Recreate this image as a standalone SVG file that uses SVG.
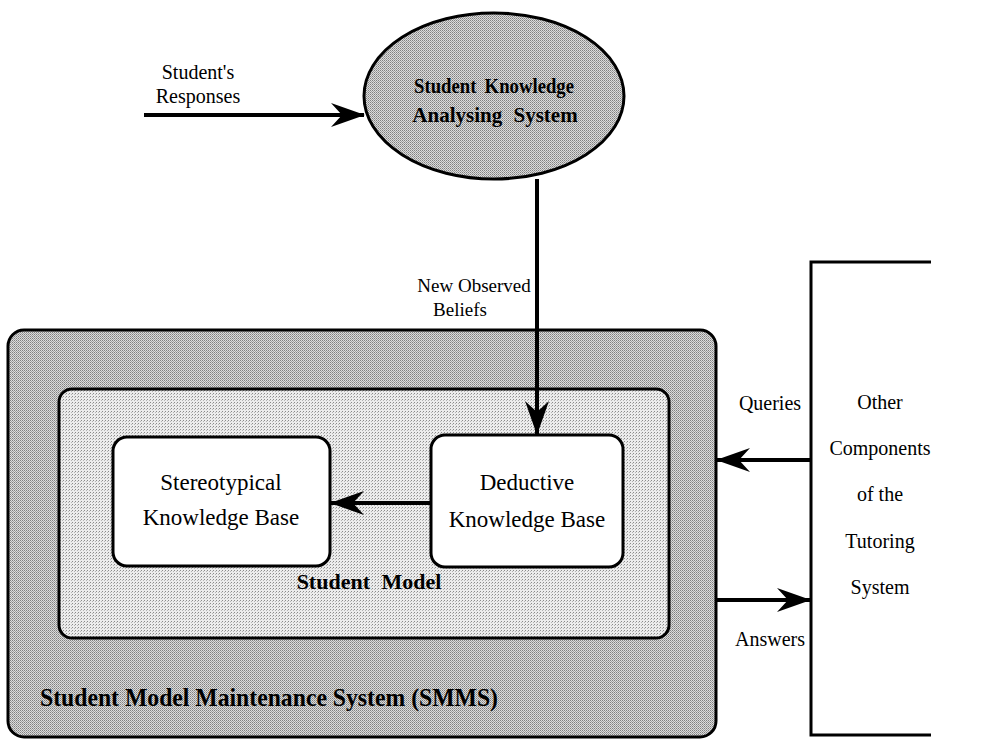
<svg xmlns="http://www.w3.org/2000/svg" width="1002" height="747" viewBox="0 0 1002 747">
<style>
.t{font-family:"Liberation Serif","Times New Roman",serif;font-size:20px;fill:#000;text-anchor:middle}
.b{font-weight:bold}
.k{font-size:23px}
.ln{stroke:#000;stroke-width:4;fill:none}
.box{stroke:#000;stroke-width:3}
</style>
<defs>
<pattern id="dOuter" width="2" height="2" patternUnits="userSpaceOnUse">
<rect width="2" height="2" fill="#dcdcdc"/>
<rect width="1" height="1" fill="#808080"/>
<rect x="1" y="1" width="1" height="1" fill="#a0a0a0"/>
</pattern>
<pattern id="dInner" width="3" height="3" patternUnits="userSpaceOnUse">
<rect width="3" height="3" fill="#ececec"/>
<rect width="1" height="1" fill="#8a8a8a"/>
<rect x="2" y="1" width="1" height="1" fill="#b4b4b4"/>
</pattern>
<marker id="ahL" viewBox="0 0 34 24" refX="33" refY="12" markerWidth="34" markerHeight="24" markerUnits="userSpaceOnUse" orient="auto">
<path d="M0,0 L34,12 L0,24 L11,12 z" fill="#000"/>
</marker>
</defs>
<rect width="1002" height="747" fill="#fff"/>

<g id="smms">
<rect class="box" x="8" y="330" width="708" height="407" rx="16" fill="url(#dOuter)"/>
<text class="t b" x="269" y="706" style="font-size:26px" textLength="458" lengthAdjust="spacingAndGlyphs">Student Model Maintenance System (SMMS)</text>
</g>

<g id="student-model">
<rect class="box" x="59" y="389" width="610" height="249" rx="13" fill="url(#dInner)"/>
<text class="t b" x="369" y="589" style="font-size:22px;word-spacing:6px">Student Model</text>
</g>

<g id="skas">
<ellipse class="box" cx="494" cy="96" rx="130" ry="83" fill="url(#dOuter)"/>
<text class="t b" x="494" y="93" style="font-size:21px;word-spacing:4px" textLength="160" lengthAdjust="spacingAndGlyphs">Student Knowledge</text>
<text class="t b" x="495" y="122" style="font-size:21px;word-spacing:6px">Analysing System</text>
</g>

<g id="stereo">
<rect class="box" x="113" y="437" width="217" height="129" rx="14" fill="#fff"/>
<text class="t k" x="221" y="490">Stereotypical</text>
<text class="t k" x="221" y="525">Knowledge Base</text>
</g>

<g id="deductive">
<rect class="box" x="431" y="435" width="192" height="132" rx="14" fill="#fff"/>
<text class="t k" x="527" y="490">Deductive</text>
<text class="t k" x="527" y="527">Knowledge Base</text>
</g>

<g id="other">
<path d="M931,262 L811,262 L811,735 L931,735" stroke="#000" stroke-width="3" fill="none"/>
<text class="t" x="880" y="409">Other</text>
<text class="t" x="880" y="455">Components</text>
<text class="t" x="880" y="501">of the</text>
<text class="t" x="880" y="548">Tutoring</text>
<text class="t" x="880" y="594">System</text>
</g>

<g id="connectors">
<line class="ln" x1="144" y1="115" x2="364" y2="115" marker-end="url(#ahL)"/>
<line class="ln" x1="537" y1="179" x2="537" y2="434" marker-end="url(#ahL)"/>
<line class="ln" x1="431" y1="503" x2="331" y2="503" marker-end="url(#ahL)"/>
<line class="ln" x1="811" y1="460" x2="717" y2="460" marker-end="url(#ahL)"/>
<line class="ln" x1="717" y1="600" x2="810" y2="600" marker-end="url(#ahL)"/>
</g>

<g id="labels">
<text class="t" x="198" y="79">Student's</text>
<text class="t" x="198" y="103">Responses</text>
<text class="t" x="474" y="292" style="font-size:19px">New Observed</text>
<text class="t" x="460" y="316" style="font-size:19px">Beliefs</text>
<text class="t" x="770" y="410">Queries</text>
<text class="t" x="770" y="646">Answers</text>
</g>
</svg>
